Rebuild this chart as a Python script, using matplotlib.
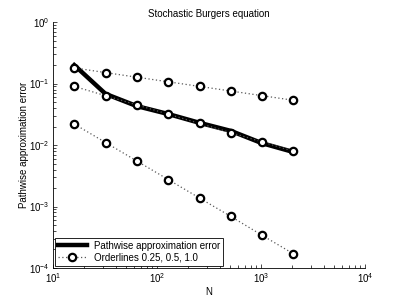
import matplotlib
matplotlib.use("Agg")
import matplotlib.pyplot as plt

N = [16, 32, 64, 128, 256, 512, 1024, 2048]
err = [0.20, 0.068, 0.043, 0.032, 0.023, 0.017, 0.0107, 0.0077]
order025 = [0.18, 0.151, 0.127, 0.107, 0.090, 0.0757, 0.0636, 0.0535]
order05 = [0.090, 0.0636, 0.045, 0.0318, 0.0225, 0.0159, 0.01125, 0.00795]
order10 = [0.022, 0.011, 0.0055, 0.00275, 0.001375, 0.00069, 0.00034, 0.00017]

plt.rcParams['font.family'] = ['Liberation Sans', 'DejaVu Sans']
fig = plt.figure(figsize=(4.03, 3.03), dpi=100)
ax = fig.add_axes([0.1315, 0.1155, 0.7745, 0.8115])

ax.plot(N, err, color='black', lw=3.2, label='Pathwise approximation error', zorder=3)
for i, ol in enumerate([order025, order05, order10]):
    ax.plot(N, ol, color='0.35', ls=(0, (1, 2)), lw=0.9,
            marker='o', ms=5.3, mfc='white', mec='black', mew=1.6,
            label='Orderlines 0.25, 0.5, 1.0' if i == 0 else None, zorder=4)

ax.set_xscale('log')
ax.set_yscale('log')
ax.set_xlim(10, 1e4)
ax.set_ylim(1e-4, 1)
ax.set_title('Stochastic Burgers equation', fontsize=7, pad=3.5)
ax.set_xlabel('N', fontsize=7, labelpad=1)
ax.set_ylabel('Pathwise approximation error', fontsize=7, labelpad=0)
ax.spines['top'].set_visible(False)
ax.spines['right'].set_visible(False)
for s in ['left', 'bottom']:
    ax.spines[s].set_linewidth(0.6)
ax.tick_params(which='both', direction='in', labelsize=7, width=0.5, pad=2.5)
ax.tick_params(which='major', length=3)
ax.tick_params(which='minor', length=2)
leg = ax.legend(loc='lower left', fontsize=7, frameon=True, fancybox=False,
                edgecolor='black', framealpha=1, borderpad=0.3,
                handlelength=2.9, labelspacing=0.2, borderaxespad=0.25)
leg.get_frame().set_linewidth(0.6)
fig.savefig('out.png', dpi=100)
